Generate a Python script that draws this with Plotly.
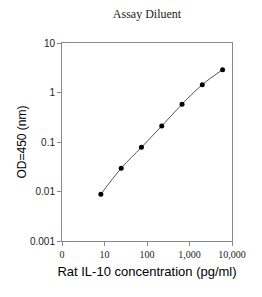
import plotly.graph_objects as go

concentration = [8.2, 24.7, 74, 222, 667, 2000, 6000]
od450 = [0.0088, 0.0295, 0.078, 0.21, 0.58, 1.44, 2.89]

x_tickvals = [1, 10, 100, 1000, 10000]
x_ticktext = ["0", "10", "100", "1,000", "10,000"]
y_tickvals = [0.001, 0.01, 0.1, 1, 10]
y_ticktext = ["0.001", "0.01", "0.1", "1", "10"]

fig = go.Figure()
fig.add_trace(go.Scatter(
    x=concentration, y=od450, mode="lines+markers",
    line=dict(color="#555555", width=1, shape="spline"),
    marker=dict(color="black", size=5),
    showlegend=False,
))

axis_common = dict(showline=True, linecolor="#8a8a8a", linewidth=1, mirror=True,
                   ticks="outside", tickcolor="#8a8a8a", ticklen=4, showgrid=False,
                   zeroline=False)

fig.update_layout(
    width=262, height=297,
    margin=dict(l=62, r=30, t=43, b=56),
    paper_bgcolor="white", plot_bgcolor="white",
    title=dict(text="Assay Diluent", x=0.5, xref="paper", y=0.955, yref="container",
               xanchor="center", yanchor="middle",
               font=dict(family="Liberation Serif", size=12, color="#222222")),
    xaxis=dict(type="log", range=[0, 4], tickvals=x_tickvals, ticktext=x_ticktext,
               tickfont=dict(family="Liberation Serif", size=10, color="#222222"),
               title=dict(text="Rat IL-10 concentration (pg/ml)", standoff=7,
                          font=dict(family="Liberation Sans", size=13, color="black")),
               **axis_common),
    yaxis=dict(type="log", range=[-3, 1], tickvals=y_tickvals, ticktext=y_ticktext,
               tickfont=dict(family="Liberation Sans", size=10, color="#222222"),
               title=dict(text="OD=450 (nm)", standoff=0,
                          font=dict(family="Liberation Sans", size=12, color="black")),
               **axis_common),
)

fig.write_html("out.html", config={"displayModeBar": False},
               post_script="document.body.style.margin='0';")
